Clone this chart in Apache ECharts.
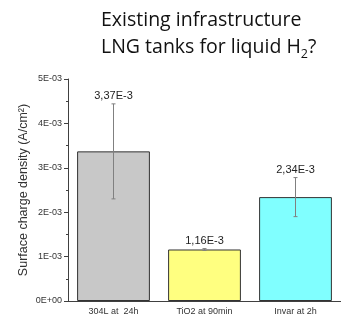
<!DOCTYPE html>
<html>
<head>
<meta charset="utf-8">
<script src="https://cdn.jsdelivr.net/npm/echarts@6/dist/echarts.min.js"></script>
<style>
  html, body { margin: 0; padding: 0; background: #fff; }
  #chart { width: 341px; height: 320px; }
</style>
</head>
<body>
<div id="chart"></div>
<script>
// Surface charge density per sample (A/cm²) with standard deviation
const categories = ['304L at  24h', 'TiO2 at 90min', 'Invar at 2h'];
const densities = [3.37e-3, 1.16e-3, 2.34e-3];
const deviations = [1.07e-3, 0.02e-3, 0.44e-3];
const barColors = ['#c8c8c8', '#ffff80', '#80ffff'];
const yTicks = [0, 1e-3, 2e-3, 3e-3, 4e-3, 5e-3];

const fmtTick = v => {
  if (v === 0) return '0E+00';
  const e = Math.floor(Math.log10(v) + 1e-9);
  const m = Math.round(v / Math.pow(10, e));
  return m + 'E-' + String(-e).padStart(2, '0');
};
const fmtValue = v => (v * 1000).toFixed(2).replace('.', ',') + 'E-3';

const chart = echarts.init(document.getElementById('chart'), null, { renderer: 'canvas' });
const axisColor = '#404040';
const labelFont = 'Liberation Sans, Arial, sans-serif';
const titleFont = 'Open Sans, sans-serif';

chart.setOption({
  animation: false,
  title: {
    left: 96,
    top: 2,
    text: 'Existing infrastructure\nLNG tanks for liquid H{sub|2}?',
    textStyle: {
      fontFamily: titleFont,
      fontSize: 19.5,
      fontWeight: 'normal',
      color: '#111',
      lineHeight: 27,
      rich: {
        sub: { fontFamily: titleFont, fontSize: 12.5, color: '#111', verticalAlign: 'bottom', lineHeight: 10 }
      }
    }
  },
  grid: { left: 68, right: -2, top: 79, bottom: 19 },
  xAxis: [{
    type: 'category',
    data: categories,
    axisLine: { lineStyle: { color: axisColor, width: 1 } },
    axisTick: { alignWithLabel: true, length: 4, lineStyle: { color: axisColor } },
    axisLabel: { fontFamily: labelFont, fontSize: 9, color: '#333', margin: 6 }
  }, {
    type: 'category',
    data: categories,
    position: 'bottom',
    axisLine: { show: false },
    axisTick: { length: 2, lineStyle: { color: axisColor } },
    axisLabel: { show: false }
  }],
  yAxis: {
    type: 'value',
    min: 0, max: yTicks[yTicks.length - 1], interval: 1e-3,
    name: 'Surface charge density (A/cm²)',
    nameLocation: 'middle',
    nameMoveOverlap: false,
    nameGap: 38,
    nameTextStyle: { fontFamily: labelFont, fontSize: 12.5, color: '#333' },
    axisLine: { show: true, lineStyle: { color: axisColor, width: 1 } },
    axisTick: { show: true, length: 4, lineStyle: { color: axisColor } },
    minorTick: { show: true, splitNumber: 2, length: 2, lineStyle: { color: axisColor } },
    splitLine: { show: false },
    axisLabel: { fontFamily: labelFont, fontSize: 9, color: '#333', margin: 6, formatter: fmtTick }
  },
  series: [{
    type: 'bar',
    barWidth: '80%',
    data: densities.map((v, i) => ({
      value: v,
      itemStyle: { color: barColors[i], borderColor: '#333', borderWidth: 1 }
    }))
  }, {
    type: 'custom',
    z: 5,
    data: densities.map((v, i) => [i, v, deviations[i]]),
    renderItem: (params, api) => {
      const x = api.value(0);
      const v = api.value(1);
      const d = api.value(2);
      const top = api.coord([x, v + d]);
      const bot = api.coord([x, v - d]);
      const cap = 2;
      const style = { stroke: '#808080', lineWidth: 1 };
      return {
        type: 'group',
        children: [
          { type: 'line', shape: { x1: top[0], y1: top[1], x2: bot[0], y2: bot[1] }, style },
          { type: 'line', shape: { x1: top[0] - cap, y1: top[1], x2: top[0] + cap, y2: top[1] }, style },
          { type: 'line', shape: { x1: bot[0] - cap, y1: bot[1], x2: bot[0] + cap, y2: bot[1] }, style },
          {
            type: 'text',
            style: {
              x: top[0], y: top[1] - 2,
              text: fmtValue(v),
              align: 'center', verticalAlign: 'bottom',
              fontFamily: labelFont, fontSize: 11, fill: '#222'
            }
          }
        ]
      };
    }
  }]
});
</script>
</body>
</html>
